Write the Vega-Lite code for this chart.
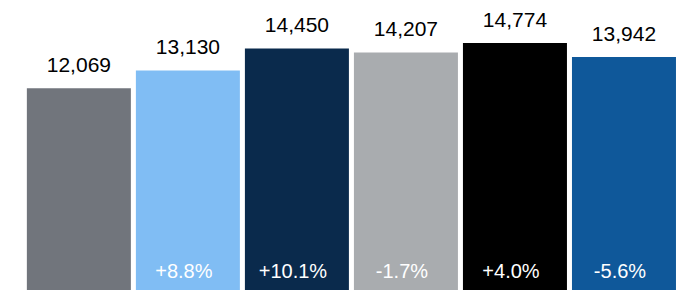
{
  "$schema": "https://vega.github.io/schema/vega-lite/v6.json",
  "width": 684,
  "height": 290,
  "padding": 0,
  "autosize": {"type": "none"},
  "background": "white",
  "config": {"view": {"stroke": null}},
  "data": {
    "values": [
      {"cat": "A", "value": 12069, "label": "12,069", "change": "", "color": "#71757c"},
      {"cat": "B", "value": 13130, "label": "13,130", "change": "+8.8%", "color": "#80bdf4"},
      {"cat": "C", "value": 14450, "label": "14,450", "change": "+10.1%", "color": "#0a2a4c"},
      {"cat": "D", "value": 14207, "label": "14,207", "change": "-1.7%", "color": "#a9acaf"},
      {"cat": "E", "value": 14774, "label": "14,774", "change": "+4.0%", "color": "#000000"},
      {"cat": "F", "value": 13942, "label": "13,942", "change": "-5.6%", "color": "#0f589a"}
    ]
  },
  "encoding": {
    "x": {
      "field": "cat",
      "type": "nominal",
      "axis": null,
      "sort": null,
      "scale": {"paddingInner": 0.046, "paddingOuter": 0.16, "align": 0.77}
    }
  },
  "layer": [
    {
      "mark": {"type": "bar"},
      "encoding": {
        "y": {"field": "value", "type": "quantitative", "axis": null, "scale": {"domain": [0, 17346], "nice": false, "zero": true}},
        "color": {"field": "color", "type": "nominal", "scale": null, "legend": null}
      }
    },
    {
      "mark": {"type": "text", "baseline": "alphabetic", "align": "center", "dy": -16, "fontSize": 21, "font": "Liberation Sans", "color": "#000000"},
      "encoding": {
        "y": {"field": "value", "type": "quantitative", "axis": null, "scale": {"domain": [0, 17346], "nice": false, "zero": true}},
        "text": {"field": "label"}
      }
    },
    {
      "mark": {"type": "text", "baseline": "alphabetic", "align": "center", "dx": -4, "dy": -12, "fontSize": 20, "font": "Liberation Sans", "color": "#ffffff"},
      "encoding": {
        "y": {"datum": 0, "type": "quantitative", "axis": null, "scale": {"domain": [0, 17346], "nice": false, "zero": true}},
        "text": {"field": "change"}
      }
    }
  ]
}
